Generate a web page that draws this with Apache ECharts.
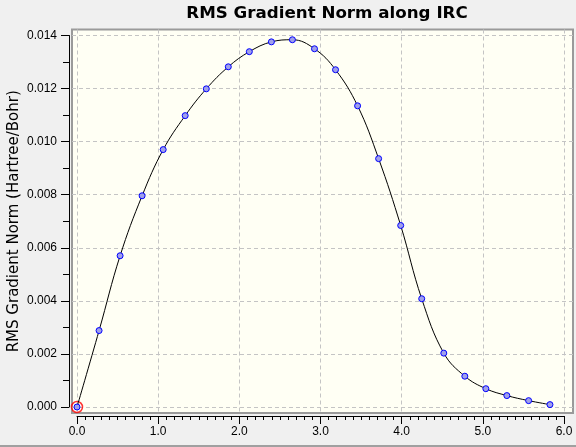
<!DOCTYPE html>
<html>
<head>
<meta charset="utf-8">
<script src="https://cdn.jsdelivr.net/npm/echarts@6/dist/echarts.min.js"></script>
<style>
  html, body { margin: 0; padding: 0; background: #f0f0f0; }
  #main { width: 576px; height: 447px; }
</style>
</head>
<body>
<div id="main"></div>
<script>
// IRC coordinate and RMS gradient norm
let ircCoord = [0, 0.272, 0.531, 0.802, 1.062, 1.333, 1.593, 1.864, 2.123, 2.395, 2.654, 2.926,
    3.185, 3.457, 3.716, 3.988, 4.247, 4.519, 4.778, 5.037, 5.296, 5.564, 5.827];
let gradNorm = [0, 0.00288, 0.00570, 0.00796, 0.00970, 0.01098, 0.01199, 0.01282, 0.01339, 0.01376,
    0.01384, 0.01350, 0.01271, 0.01135, 0.00936, 0.00684, 0.00408, 0.00203, 0.00116, 0.00069,
    0.00043, 0.00024, 0.00009];
let xTicks = [0, 1, 2, 3, 4, 5, 6];
let yTicks = [0, 0.002, 0.004, 0.006, 0.008, 0.010, 0.012, 0.014];

let points = ircCoord.map((x, i) => [x, gradNorm[i]]);

let labelFont = 'Liberation Sans, Arial, sans-serif';

let myChart = echarts.init(document.getElementById('main'));

let option = {
    backgroundColor: '#f0f0f0',
    animation: false,
    title: {
        text: 'RMS Gradient Norm along IRC',
        left: 322,
        textAlign: 'center',
        top: 0,
        textStyle: {
            fontFamily: 'DejaVu Sans',
            fontSize: 16.7,
            fontWeight: 'bold',
            color: '#000'
        }
    },
    graphic: [
        {
            type: 'rect',
            left: 0,
            bottom: 0,
            shape: { width: 576, height: 2 },
            style: { fill: '#a0a0a0' }
        }
    ],
    grid: [
        // data area
        { left: 77, right: 12, top: 35.5, bottom: 40, outerBoundsMode: 'none', containLabel: false },
        // frame with dashed grid
        {
            left: 72, right: 3, top: 29.5, bottom: 34,
            outerBoundsMode: 'none',
            containLabel: false,
            show: true,
            backgroundColor: '#fffff4',
            borderColor: '#9a9a9a',
            borderWidth: 2,
            z: 0
        }
    ],
    xAxis: [
        {
            type: 'value',
            gridIndex: 0,
            min: 0,
            max: 6,
            interval: 1,
            offset: 9,
            axisLine: { show: true, onZero: false, lineStyle: { color: '#000', width: 1 } },
            axisTick: { show: true, length: 8, lineStyle: { color: '#000' } },
            minorTick: { show: true, splitNumber: 10, length: 4, lineStyle: { color: '#000' } },
            axisLabel: {
                margin: 10,
                fontFamily: labelFont,
                fontSize: 12,
                color: '#000',
                formatter: v => v.toFixed(1)
            },
            splitLine: { show: false }
        },
        {
            type: 'value',
            gridIndex: 1,
            min: -0.0616,
            max: 6.111,
            axisLine: { show: false },
            axisTick: { show: false, customValues: xTicks },
            axisLabel: { show: false, customValues: xTicks },
            splitLine: { show: true, lineStyle: { color: '#c4c4c4', type: [4, 3], width: 1 } }
        }
    ],
    yAxis: [
        {
            type: 'value',
            gridIndex: 0,
            min: 0,
            max: 0.014,
            interval: 0.002,
            offset: 8,
            name: 'RMS Gradient Norm (Hartree/Bohr)',
            nameLocation: 'middle',
            nameGap: 47,
            nameMoveOverlap: false,
            nameTextStyle: { fontFamily: 'DejaVu Sans', fontSize: 15, color: '#000' },
            axisLine: { show: true, onZero: false, lineStyle: { color: '#000', width: 1 } },
            axisTick: { show: true, length: 8, lineStyle: { color: '#000' } },
            minorTick: { show: true, splitNumber: 2, length: 6, lineStyle: { color: '#000' } },
            axisLabel: {
                margin: 12,
                fontFamily: labelFont,
                fontSize: 12,
                color: '#000',
                formatter: v => v.toFixed(3)
            },
            splitLine: { show: false }
        },
        {
            type: 'value',
            gridIndex: 1,
            min: -0.000226,
            max: 0.014226,
            axisLine: { show: false },
            axisTick: { show: false, customValues: yTicks },
            axisLabel: { show: false, customValues: yTicks },
            splitLine: { show: true, lineStyle: { color: '#c4c4c4', type: [4, 3], width: 1 } }
        }
    ],
    series: [
        {
            name: 'start',
            type: 'scatter',
            xAxisIndex: 0,
            yAxisIndex: 0,
            data: [points[0]],
            symbol: 'circle',
            symbolSize: 11,
            z: 3,
            itemStyle: { color: 'rgba(0,0,0,0)', borderColor: '#ff0000', borderWidth: 1.5 }
        },
        {
            name: 'RMS Gradient',
            type: 'line',
            xAxisIndex: 0,
            yAxisIndex: 0,
            data: points,
            smooth: 0.4,
            symbol: 'circle',
            symbolSize: 6,
            showAllSymbol: true,
            z: 4,
            lineStyle: { color: '#000', width: 1 },
            itemStyle: { color: '#a0a0ea', borderColor: '#0000ff', borderWidth: 1 }
        }
    ]
};

myChart.setOption(option);
</script>
</body>
</html>
